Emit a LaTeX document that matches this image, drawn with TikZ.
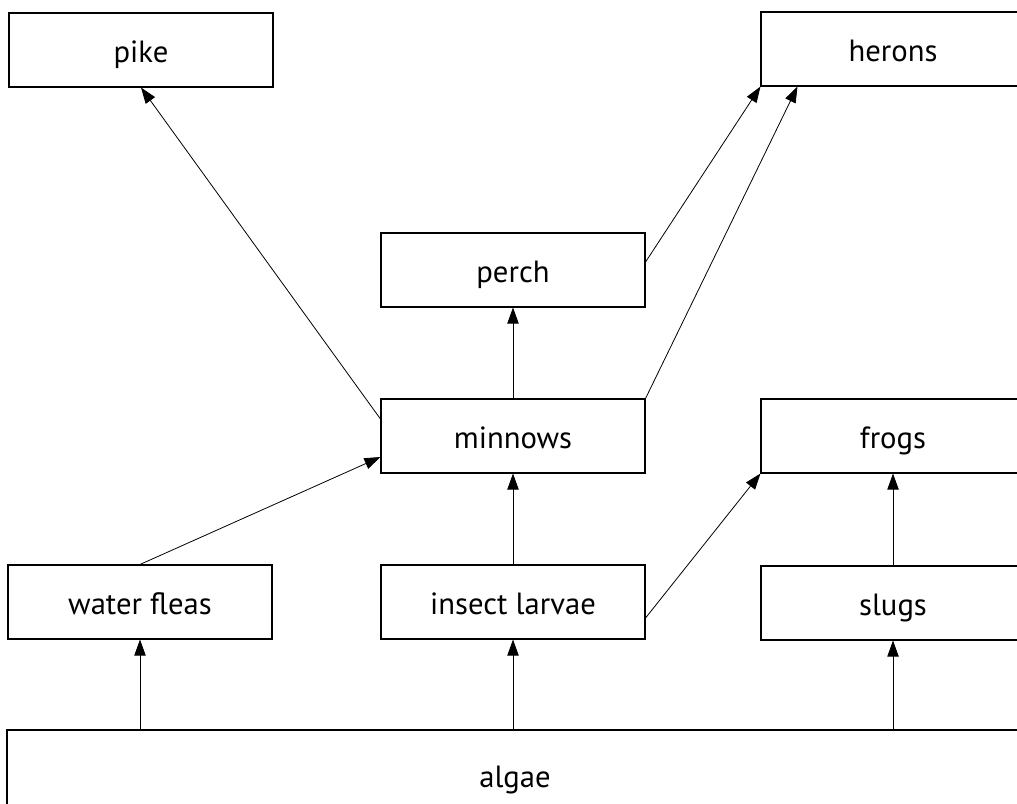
\documentclass[tikz,border=0pt]{standalone}
\usepackage{fontspec}
\setmainfont{PT Sans}
\usetikzlibrary{arrows.meta,calc}
\begin{document}
\begin{tikzpicture}[x=0.75pt,y=-0.75pt,
  box/.style={draw, line width=0.8pt, minimum width=198pt, minimum height=55.5pt,
    inner sep=0pt, text height=18pt, text depth=0pt, font=\fontsize{23}{27}\selectfont},
  link/.style={line width=0.6pt, -{Triangle[length=12pt,width=8.5pt]}}]
\useasboundingbox (0,0) rectangle (1017,803);
\clip (0,0) rectangle (1017,803);
\node[box] (pike)    at (141,50)  {pike};
\node[box] (herons)  at (893,49)  {herons};
\node[box] (perch)   at (513,270) {perch};
\node[box] (minnows) at (513,436) {minnows};
\node[box] (frogs)   at (893,436) {frogs};
\node[box] (fleas)   at (140,602) {water fleas};
\node[box] (larvae)  at (513,602) {insect larvae};
\node[box] (slugs)   at (893,603) {slugs};
\node[box, minimum width=762pt, minimum height=67.5pt] (algae) at (515,775) {algae};
% vertical links
\draw[link] (algae.north -| fleas)  -- (fleas.south);
\draw[link] (algae.north -| larvae) -- (larvae.south);
\draw[link] (algae.north -| slugs)  -- (slugs.south);
\draw[link] (slugs.north)   -- (frogs.south);
\draw[link] (larvae.north)  -- (minnows.south);
\draw[link] (minnows.north) -- (perch.south);
% diagonal links
\draw[link] (fleas.north) -- ($(minnows.west)+(0,21)$);
\draw[link] ($(minnows.west)+(0,-17)$) -- (pike.south);
\draw[link] (minnows.north east) -- ($(herons.south west)+(37,0)$);
\draw[link] ($(perch.east)+(0,-8)$) -- (herons.south west);
\draw[link] ($(larvae.east)+(0,16)$) -- (frogs.south west);
\end{tikzpicture}
\end{document}
